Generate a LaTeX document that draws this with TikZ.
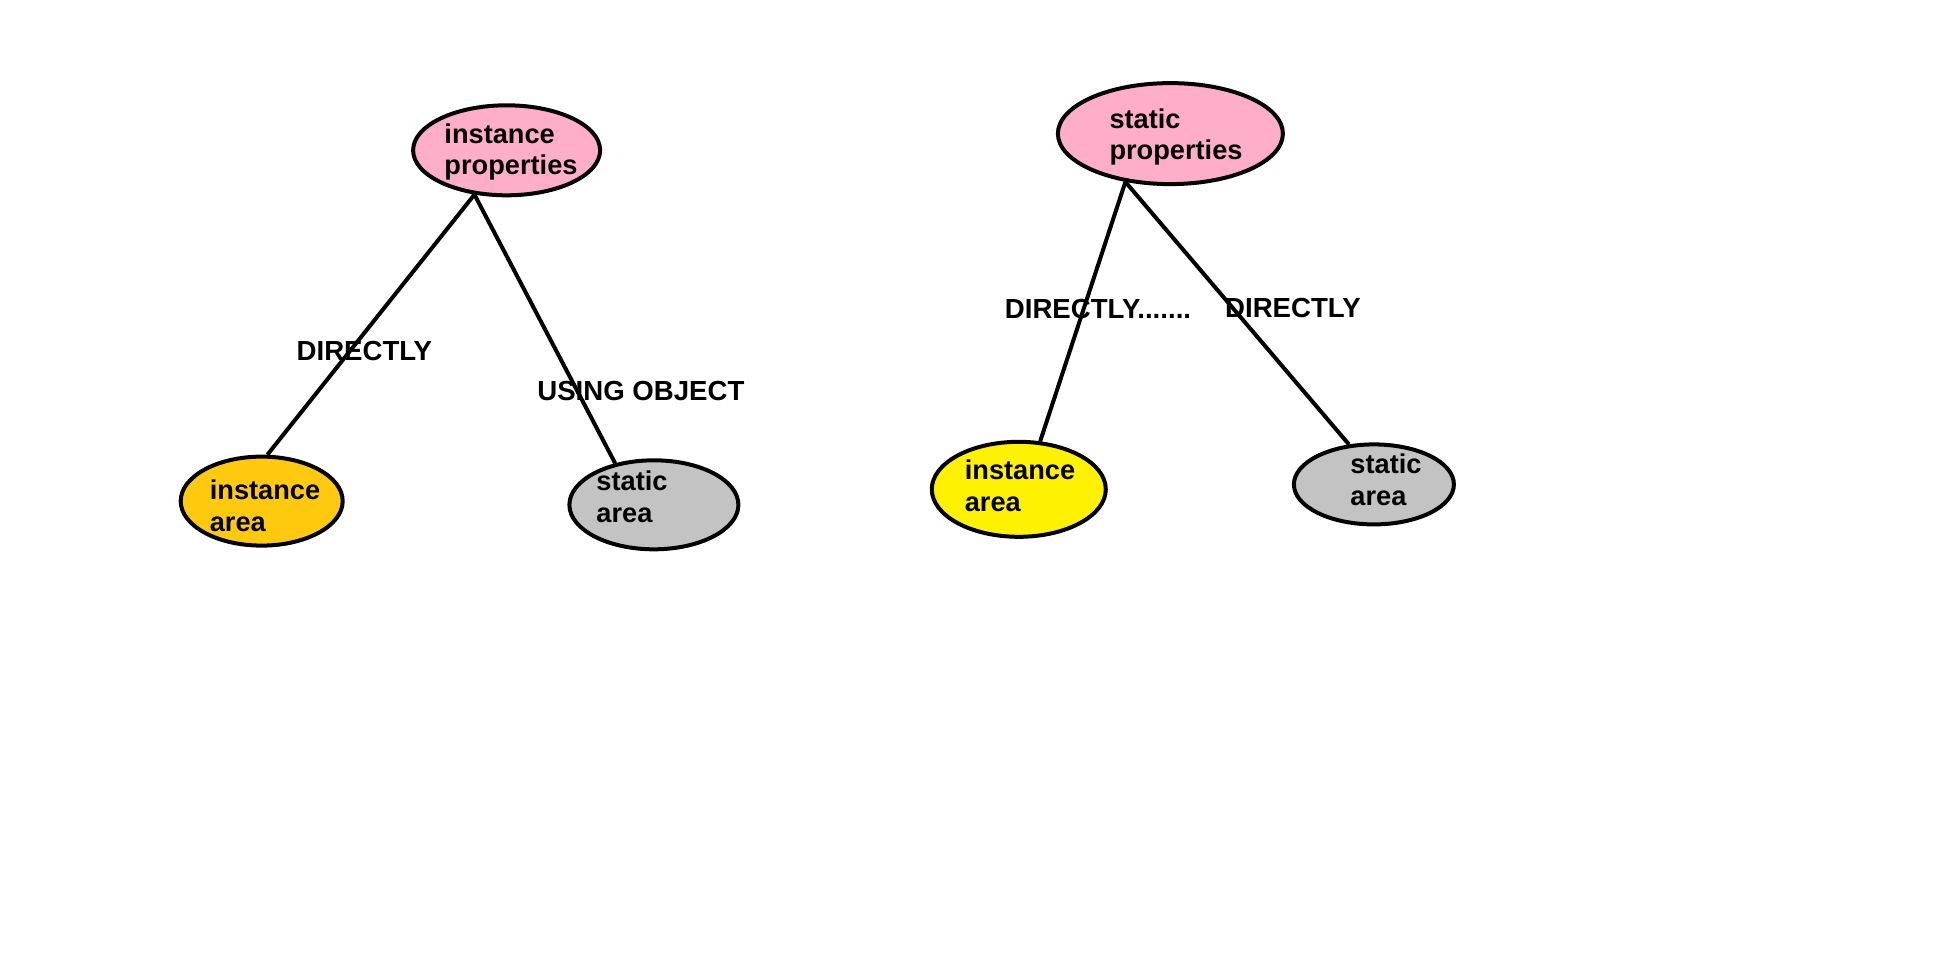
\documentclass[tikz,border=0pt]{standalone}
\usepackage{fontspec}
\setmainfont{Liberation Sans}
\usetikzlibrary{shapes.geometric}
\definecolor{pinkfill}{HTML}{FFAEC9}
\definecolor{orangefill}{HTML}{FFC90E}
\definecolor{yellowfill}{HTML}{FFF200}
\definecolor{grayfill}{HTML}{C3C3C3}
\begin{document}
\begin{tikzpicture}[x=0.5pt,y=-0.5pt,
  oval/.style={ellipse,draw=black,line width=2pt,inner sep=0pt},
  ovaltext/.style={align=left,font=\fontsize{13.6pt}{15.8pt}\selectfont\bfseries,inner sep=0pt},
  edgetext/.style={font=\fontsize{13.8pt}{16pt}\selectfont\bfseries,inner sep=0pt},
  link/.style={draw=black,line width=2pt}]
\useasboundingbox (0,0) rectangle (1940,971);
% left group
\node[oval,fill=pinkfill,minimum width=93.5pt,minimum height=45pt] (ip) at (506.6,150.3) {};
\node[oval,fill=orangefill,minimum width=81pt,minimum height=44.5pt] (ia) at (261.7,501.1) {};
\node[oval,fill=grayfill,minimum width=84.5pt,minimum height=44.5pt] (sa) at (653.9,504.8) {};
\node[ovaltext] (ipt) at (511,152) {instance\\properties};
\node[ovaltext] (iat) at (265,506) {instance\\area};
\node[ovaltext] (sat) at (632,497) {static\\area};
% right group
\node[oval,fill=pinkfill,minimum width=112.5pt,minimum height=50.5pt] (sp) at (1170.4,133.6) {};
\node[oval,fill=yellowfill,minimum width=87pt,minimum height=47.5pt] (ib) at (1018.8,489.3) {};
\node[oval,fill=grayfill,minimum width=80pt,minimum height=40pt] (sb) at (1373.9,484.4) {};
\node[ovaltext] (spt) at (1176,137) {static\\properties};
\node[ovaltext] (ibt) at (1020,486) {instance\\area};
\node[ovaltext] (sbt) at (1386,480) {static\\area};
% edge labels
\node[edgetext] (l1) at (364.4,351.4) {DIRECTLY};
\node[edgetext] (l2) at (640.9,391) {USING OBJECT};
\node[edgetext] (l3) at (1098,309.3) {DIRECTLY.......};
\node[edgetext] (l4) at (1292.9,308) {DIRECTLY};
% connectors
\draw[link] (ip.234) -- (ia.83);
\draw[link] (ip.234) -- (sa.133.6);
\draw[link] (sp.227.3) -- (ib.66.4);
\draw[link] (sp.227.3) -- (sb.122.2);
\end{tikzpicture}
\end{document}
